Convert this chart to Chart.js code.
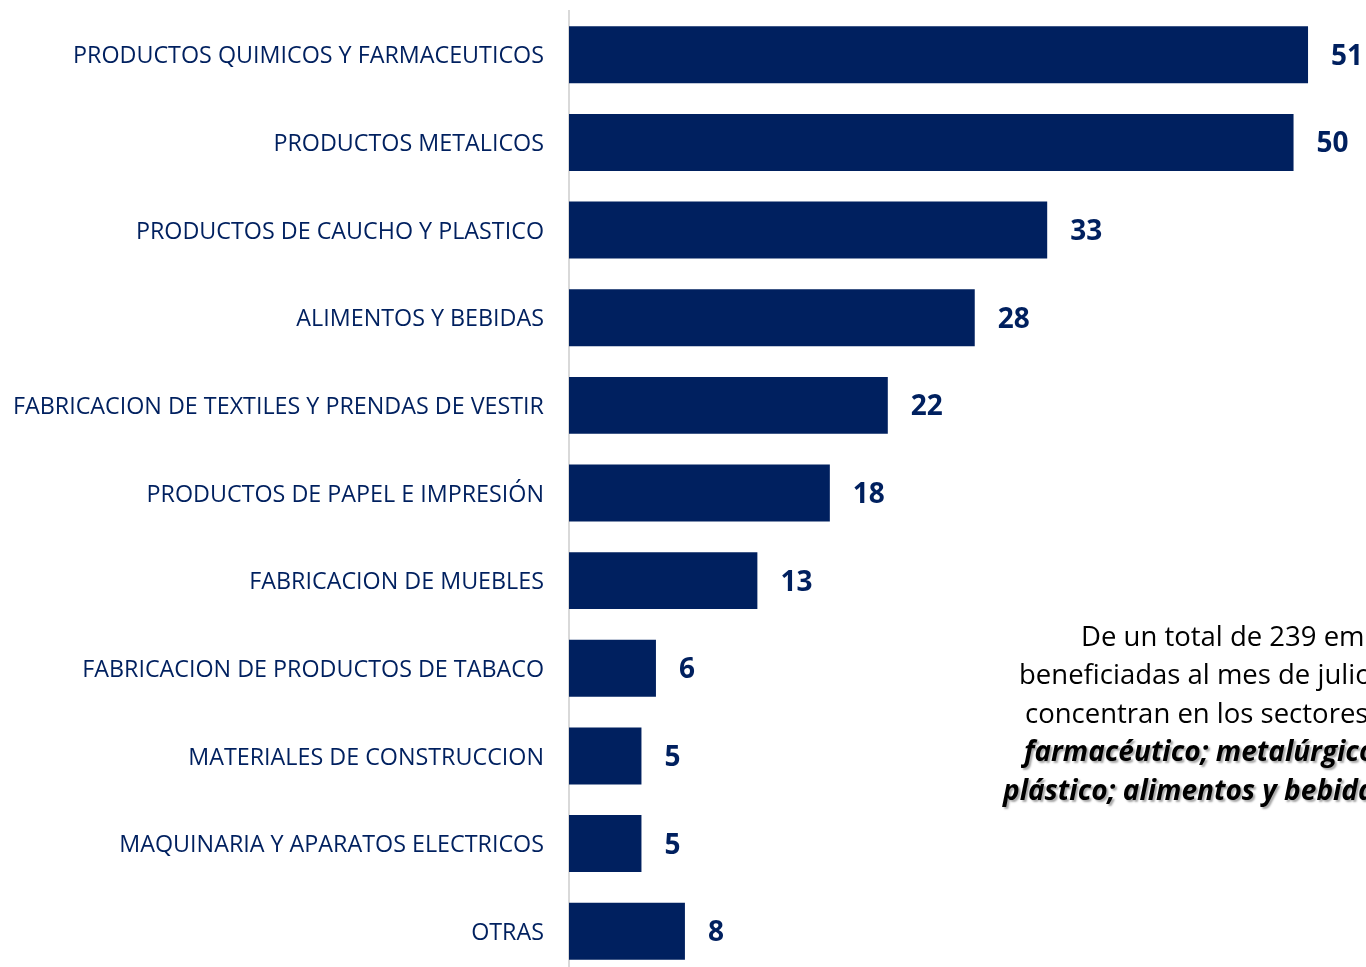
<!DOCTYPE html>
<html>
<head>
<meta charset="utf-8">
<script src="https://cdn.jsdelivr.net/npm/chart.js@4.4.1/dist/chart.umd.min.js"></script>
<style>
  html, body { margin: 0; padding: 0; background: #fff; overflow: hidden; }
  canvas { display: block; }
</style>
</head>
<body>
<canvas id="sectorChart" width="1366" height="980"></canvas>
<script>
const sectors = [
  'PRODUCTOS QUIMICOS Y FARMACEUTICOS',
  'PRODUCTOS METALICOS',
  'PRODUCTOS DE CAUCHO Y PLASTICO',
  'ALIMENTOS Y BEBIDAS',
  'FABRICACION DE TEXTILES Y PRENDAS DE VESTIR',
  'PRODUCTOS DE PAPEL E IMPRESIÓN',
  'FABRICACION DE MUEBLES',
  'FABRICACION DE PRODUCTOS DE TABACO',
  'MATERIALES DE CONSTRUCCION',
  'MAQUINARIA Y APARATOS ELECTRICOS',
  'OTRAS'
];
const companies = [51, 50, 33, 28, 22, 18, 13, 6, 5, 5, 8];

const noteLines = [
  { text: 'De un total de 239 empresas', x: 1081, y: 638, bold: false },
  { text: 'beneficiadas al mes de julio, se', x: 1019, y: 676, bold: false },
  { text: 'concentran en los sectores químico-', x: 1025, y: 715, bold: false },
  { text: 'farmacéutico; metalúrgico; caucho y', x: 1024, y: 753, bold: true },
  { text: 'plástico; alimentos y bebidas.', x: 1003, y: 792, bold: true }
];

const navy = '#00205F';

// bold numbers just right of each bar end
const valueLabels = {
  id: 'valueLabels',
  afterDatasetsDraw(chart) {
    const ctx = chart.ctx;
    const meta = chart.getDatasetMeta(0);
    ctx.save();
    ctx.font = 'bold 28px "Open Sans"';
    ctx.fillStyle = navy;
    ctx.textAlign = 'left';
    ctx.textBaseline = 'middle';
    meta.data.forEach((bar, i) => {
      ctx.fillText(companies[i], bar.x + 23, bar.y + 2);
    });
    ctx.restore();
  }
};

// text note on the right (runs off the page edge like the original)
const note = {
  id: 'note',
  afterDraw(chart) {
    const ctx = chart.ctx;
    ctx.save();
    ctx.textAlign = 'left';
    ctx.textBaseline = 'middle';
    noteLines.forEach(line => {
      if (line.bold) {
        ctx.font = 'italic bold 28px "Open Sans"';
        ctx.shadowColor = 'rgba(0,0,0,0.35)';
        ctx.shadowOffsetX = 2;
        ctx.shadowOffsetY = 2;
        ctx.shadowBlur = 2;
      } else {
        ctx.font = '27.5px "Open Sans"';
        ctx.shadowColor = 'transparent';
      }
      ctx.fillStyle = '#000';
      ctx.fillText(line.text, line.x, line.y);
    });
    ctx.restore();
  }
};

new Chart(document.getElementById('sectorChart'), {
  type: 'bar',
  data: {
    labels: sectors,
    datasets: [{
      data: companies,
      backgroundColor: navy,
      barPercentage: 0.65,
      categoryPercentage: 1
    }]
  },
  options: {
    indexAxis: 'y',
    responsive: false,
    animation: false,
    layout: { padding: { top: 11, bottom: 5, left: 0, right: 0 } },
    plugins: {
      legend: { display: false },
      tooltip: { enabled: false }
    },
    scales: {
      x: {
        display: false,
        min: 0,
        max: 55
      },
      y: {
        afterFit(scale) {
          scale.width = 569;
          scale.paddingTop = 0;
          scale.paddingBottom = 0;
        },
        grid: { display: false, drawTicks: false },
        border: { display: true, color: '#d9d9d9', width: 2 },
        ticks: {
          padding: 25,
          labelOffset: 2,
          color: navy,
          font: { family: 'Open Sans', size: 23.3 }
        }
      }
    }
  },
  plugins: [valueLabels, note]
});
</script>
</body>
</html>
